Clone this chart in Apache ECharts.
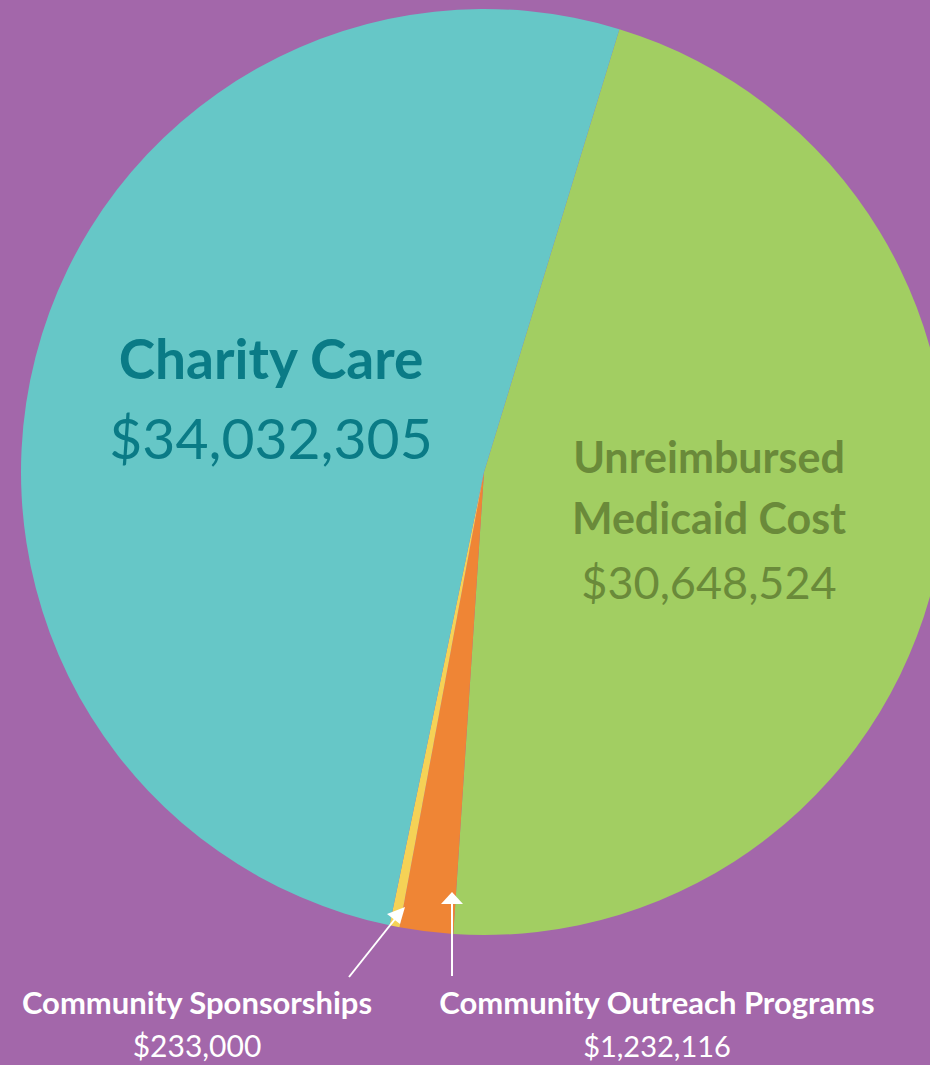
<!DOCTYPE html>
<html>
<head>
<meta charset="utf-8">
<script src="https://cdn.jsdelivr.net/npm/echarts@6/dist/echarts.min.js"></script>
<style>
html,body{margin:0;padding:0;background:#A367AA;}
#chart{width:930px;height:1065px;}
</style>
</head>
<body>
<div id="chart"></div>
<script>
// Data (clockwise order starting at the Charity/Medicaid boundary)
var categories = ['Unreimbursed Medicaid Cost', 'Community Outreach Programs', 'Community Sponsorships', 'Charity Care'];
var values = [30648524, 1232116, 233000, 34032305];
var colors = ['#A2CE62', '#EF8535', '#F5D256', '#66C7C7'];

function money(v){ return '$' + v.toLocaleString('en-US'); }

var chart = echarts.init(document.getElementById('chart'), null, {renderer:'svg'});
var FONT = 'Lato, "Open Sans", sans-serif';

function txt(x, y, s, fill, font){
  return {type:'text', z:100, x:x, y:y, style:{text:s, fill:fill, font:font, textAlign:'center', textVerticalAlign:'middle'}};
}

var option = {
  backgroundColor: '#A367AA',
  animation: false,
  series: [{
    type: 'pie',
    center: [484, 472],
    radius: [0, 463],
    startAngle: 73,
    clockwise: true,
    label: {show: false},
    labelLine: {show: false},
    emphasis: {disabled: true},
    itemStyle: {borderWidth: 0},
    data: categories.map(function(c, i){
      return {name: c, value: values[i], itemStyle: {color: colors[i]}};
    })
  }],
  graphic: [
    // Charity Care
    txt(271, 358, categories[3], '#0A7B86', 'bold 55px ' + FONT),
    txt(271, 437, money(values[3]), '#0A7B86', 'normal 57px ' + FONT),
    // Medicaid
    txt(709, 456, 'Unreimbursed', '#6A8A3A', 'bold 43px ' + FONT),
    txt(709, 517, 'Medicaid Cost', '#6A8A3A', 'bold 43px ' + FONT),
    txt(709, 582, money(values[0]), '#6A8A3A', 'normal 45px ' + FONT),
    // Bottom labels
    txt(197, 1002, categories[2], '#ffffff', 'bold 31px ' + FONT),
    txt(197, 1045, money(values[2]), '#ffffff', 'normal 30px ' + FONT),
    txt(657, 1002, categories[1], '#ffffff', 'bold 31px ' + FONT),
    txt(657, 1045, money(values[1]), '#ffffff', 'normal 29px ' + FONT),
    // Arrows
    {type:'line', z:100, shape:{x1:452, y1:976, x2:452, y2:900}, style:{stroke:'#ffffff', lineWidth:2}},
    {type:'polygon', z:100, shape:{points:[[452,892],[441,904],[463,904]]}, style:{fill:'#ffffff'}},
    {type:'line', z:100, shape:{x1:349, y1:977, x2:399, y2:914}, style:{stroke:'#ffffff', lineWidth:2}},
    {type:'polygon', z:100, shape:{points:[[405,907],[387,914],[400,924]]}, style:{fill:'#ffffff'}}
  ]
};
chart.setOption(option);
</script>
</body>
</html>
